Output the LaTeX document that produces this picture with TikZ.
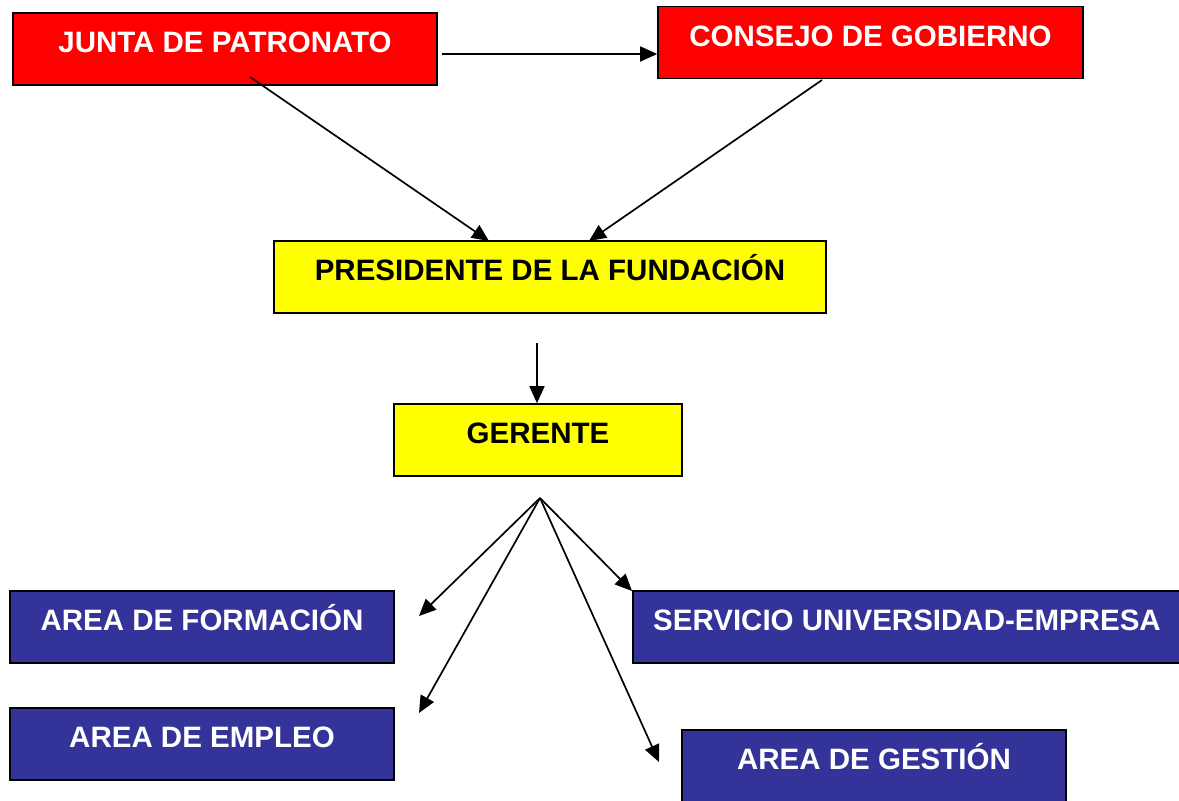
\documentclass[tikz,border=0pt]{standalone}
\usepackage{fontspec}
\setmainfont{Liberation Sans}
\usetikzlibrary{arrows.meta}
\definecolor{boxred}{HTML}{FF0000}
\definecolor{boxyellow}{HTML}{FFFF00}
\definecolor{boxblue}{HTML}{333399}
\begin{document}
\begin{tikzpicture}[x=1pt,y=-1pt,
  box/.style={draw=black,line width=1.6pt,inner sep=0pt,minimum width=#1,minimum height=72pt,
     text height=39.5pt,text depth=32.5pt,font=\fontsize{29.5}{34}\selectfont\bfseries},
  redbox/.style={box=#1,fill=boxred,text=white},
  yellowbox/.style={box=#1,fill=boxyellow,text=black},
  bluebox/.style={box=#1,fill=boxblue,text=white},
  conn/.style={draw=black,line width=1.7pt,-{Triangle[length=17pt,width=15pt]}}]
\useasboundingbox (0,0) rectangle (1179,801);
\node[redbox=424pt] (junta) at (225,49) {JUNTA DE PATRONATO};
\node[redbox=425pt] (consejo) at (870.5,42.5) {CONSEJO DE GOBIERNO};
\node[yellowbox=552pt] (pres) at (550,277) {PRESIDENTE DE LA FUNDACIÓN};
\node[yellowbox=288pt] (ger) at (538,440) {GERENTE};
\node[bluebox=384pt] (form) at (202,627) {AREA DE FORMACIÓN};
\node[bluebox=548pt] (serv) at (907,627) {SERVICIO UNIVERSIDAD-EMPRESA};
\node[bluebox=384pt] (empl) at (202,744) {AREA DE EMPLEO};
\node[bluebox=384pt] (gest) at (874,766) {AREA DE GESTIÓN};
\coordinate (j1) at (442,54);
\coordinate (j2) at (250,77);
\coordinate (c2) at (822,80);
\coordinate (p1) at (537,343);
\coordinate (g1) at (540,498);
\coordinate (t1) at (419,616);
\coordinate (t2) at (419,713);
\coordinate (t3) at (632,591);
\coordinate (t4) at (659,762);
\draw[conn] (j1) -- (consejo.west |- j1);
\draw[conn] (j2) -- (489,241) coordinate (pa);
\draw[conn] (c2) -- (589,241) coordinate (pb);
\draw[conn] (p1) -- (p1 |- ger.north);
\draw[conn] (g1) -- (t1);
\draw[conn] (g1) -- (t2);
\draw[conn] (g1) -- (t3);
\draw[conn] (g1) -- (t4);
\end{tikzpicture}
\end{document}
